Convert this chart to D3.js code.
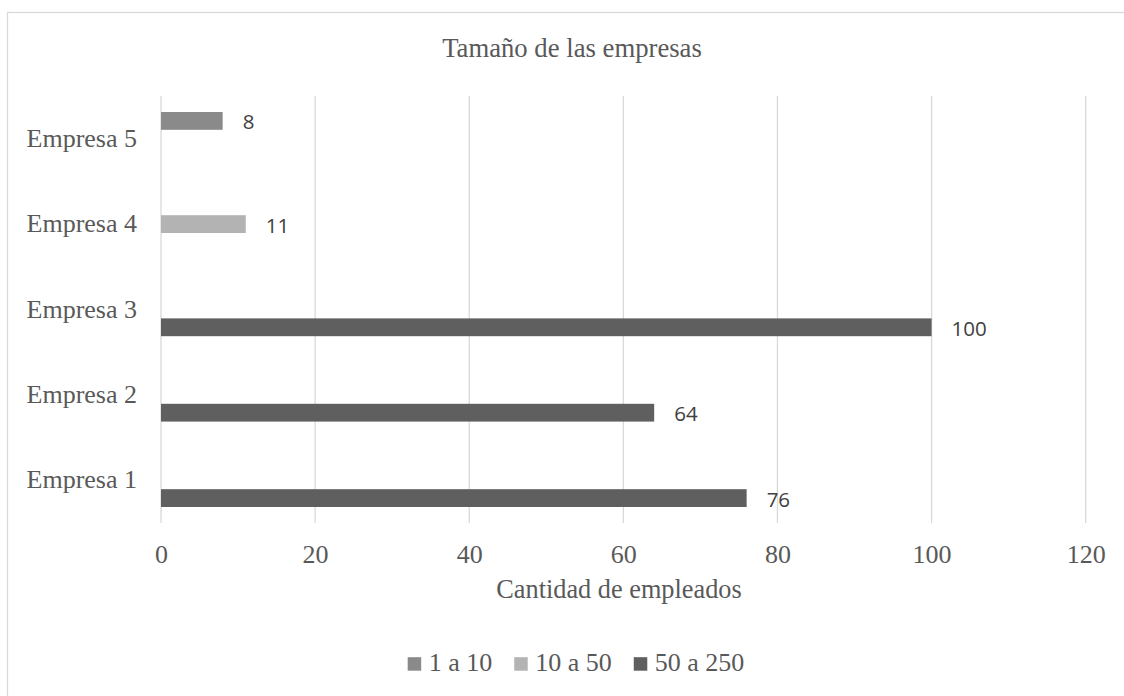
<!DOCTYPE html>
<html>
<head>
<meta charset="utf-8">
<script src="https://cdn.jsdelivr.net/npm/d3@7"></script>
<style>
  html, body { margin: 0; padding: 0; background: #ffffff; }
  svg { display: block; }
</style>
</head>
<body>
<svg id="chart" width="1124" height="696"></svg>
<script>
// Companies, bottom to top
const categories = ["Empresa 1", "Empresa 2", "Empresa 3", "Empresa 4", "Empresa 5"];
// Employee-count brackets (series)
const seriesNames = ["1 a 10", "10 a 50", "50 a 250"];
// Values per series, aligned with categories (null = no bar)
const serie1a10 = [null, null, null, null, 8];
const serie10a50 = [null, null, null, 11, null];
const serie50a250 = [76, 64, 100, null, null];
const xTicks = [0, 20, 40, 60, 80, 100, 120];

const seriesValues = [serie1a10, serie10a50, serie50a250];
const seriesColors = ["#8a8a8a", "#b3b3b3", "#5f5f5f"];

const serif = "'Liberation Serif', 'Times New Roman', Times, serif";
const sans = "'Open Sans', 'Noto Sans', sans-serif";
const textColor = "#595959";

const svg = d3.select("#chart");

// Chart frame
svg.append("rect")
  .attr("x", 7.5).attr("y", 12.5)
  .attr("width", 1300).attr("height", 900)
  .attr("fill", "none").attr("stroke", "#d9d9d9").attr("stroke-width", 1.3);

const plot = { left: 161, right: 1085.7, top: 96, bottom: 523 };

const x = d3.scaleLinear().domain([0, 120]).range([plot.left, plot.right]);
const y0 = d3.scaleBand()
  .domain(categories.slice().reverse())
  .range([plot.top, plot.bottom]);
const y1 = d3.scaleBand()
  .domain(seriesNames)
  .range([0, y0.bandwidth()])
  .paddingInner(0)
  .paddingOuter(0.9);

// Title
svg.append("text")
  .attr("x", 572).attr("y", 56.5)
  .attr("text-anchor", "middle")
  .attr("font-family", serif).attr("font-size", 26.7)
  .attr("fill", textColor)
  .text("Tamaño de las empresas");

// Vertical gridlines
svg.append("g")
  .selectAll("line")
  .data(xTicks)
  .join("line")
  .attr("x1", d => x(d)).attr("x2", d => x(d))
  .attr("y1", plot.top).attr("y2", plot.bottom)
  .attr("stroke", "#d9d9d9").attr("stroke-width", 1.3);

// Bottom axis tick labels
const xAxis = d3.axisBottom(x).tickValues(xTicks).tickSize(0).tickPadding(0);
const gx = svg.append("g")
  .attr("transform", `translate(0,${plot.bottom})`)
  .call(xAxis);
gx.select(".domain").remove();
gx.selectAll("text")
  .attr("dy", null)
  .attr("y", 40.3)
  .attr("font-family", serif).attr("font-size", 26)
  .attr("fill", textColor);

// Left axis category labels
const yAxis = d3.axisLeft(y0).tickSize(0).tickPadding(0);
const gy = svg.append("g")
  .attr("transform", `translate(137,0)`)
  .call(yAxis);
gy.select(".domain").remove();
gy.selectAll("text")
  .attr("dy", null)
  .attr("y", 8)
  .attr("font-family", serif).attr("font-size", 26)
  .attr("fill", textColor);

// Axis title
svg.append("text")
  .attr("x", 619).attr("y", 597.5)
  .attr("text-anchor", "middle")
  .attr("font-family", serif).attr("font-size", 26.3)
  .attr("fill", textColor)
  .text("Cantidad de empleados");

// Bars and value labels
const points = [];
seriesNames.forEach((s, si) => {
  categories.forEach((c, ci) => {
    const v = seriesValues[si][ci];
    if (v !== null) points.push({ series: s, si, category: c, value: v });
  });
});

const barsG = svg.append("g");
barsG.selectAll("rect")
  .data(points)
  .join("rect")
  .attr("x", x(0))
  .attr("y", d => y0(d.category) + y1(d.series))
  .attr("width", d => x(d.value) - x(0))
  .attr("height", y1.bandwidth())
  .attr("fill", d => seriesColors[d.si]);

barsG.selectAll("text")
  .data(points)
  .join("text")
  .attr("x", d => x(d.value) + 20)
  .attr("y", d => y0(d.category) + y1(d.series) + y1.bandwidth() / 2 + 8.5)
  .attr("font-family", sans).attr("font-size", 20.5)
  .attr("fill", "#404040")
  .text(d => d.value);

// Legend
const legend = svg.append("g");
const items = legend.selectAll("g")
  .data(seriesNames)
  .join("g");
items.append("rect")
  .attr("width", 13.5).attr("height", 13.5)
  .attr("y", -13.8)
  .attr("fill", (d, i) => seriesColors[i]);
items.append("text")
  .attr("x", 21)
  .attr("font-family", serif).attr("font-size", 26)
  .attr("fill", textColor)
  .text(d => d);

let cursor = 0;
items.each(function () {
  const g = d3.select(this);
  g.attr("transform", `translate(${cursor},0)`);
  const w = g.select("text").node().getComputedTextLength();
  cursor += 21 + w + 22;
});
const legendWidth = cursor - 22;
legend.attr("transform", `translate(${576 - legendWidth / 2},671)`);
</script>
</body>
</html>
